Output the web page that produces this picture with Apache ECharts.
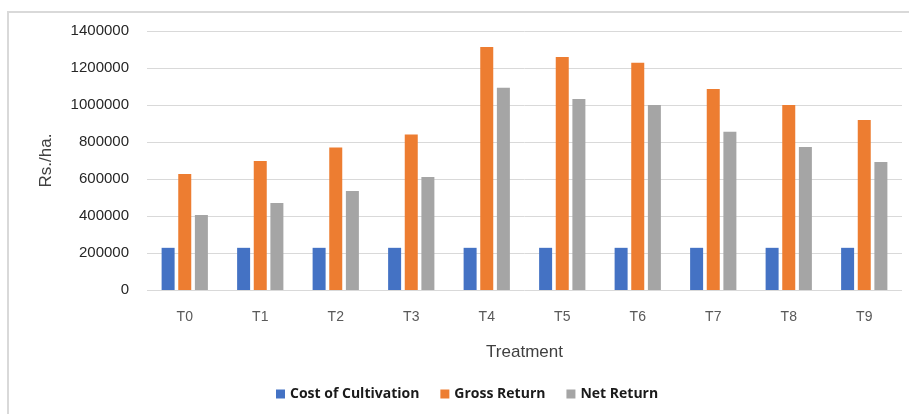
<!DOCTYPE html>
<html>
<head>
<meta charset="utf-8">
<script src="https://cdn.jsdelivr.net/npm/echarts@6/dist/echarts.min.js"></script>
<style>
  html, body { margin: 0; padding: 0; background: #fff; }
  #chart { width: 909px; height: 414px; }
</style>
</head>
<body>
<div id="chart"></div>
<script>
// Treatments on the x axis
const treatments = ['T0', 'T1', 'T2', 'T3', 'T4', 'T5', 'T6', 'T7', 'T8', 'T9'];

// Economics per treatment (Rs./ha.)
const costOfCultivation = [228000, 228000, 228000, 228000, 228000, 228000, 228000, 228000, 228000, 228000];
const grossReturn = [627000, 697000, 770000, 840000, 1314000, 1260000, 1228000, 1087000, 1000000, 919000];
const netReturn = [405000, 470000, 535000, 611000, 1093000, 1033000, 1000000, 855000, 773000, 692000];

// Y-axis ticks
const yTicks = { min: 0, max: 1400000, interval: 200000 };

const seriesNames = ['Cost of Cultivation', 'Gross Return', 'Net Return'];
const seriesColors = ['#4472c4', '#ed7d31', '#a5a5a5'];
const seriesValues = [costOfCultivation, grossReturn, netReturn];

const chart = echarts.init(document.getElementById('chart'), null, { renderer: 'canvas' });

const fontFamily = '"Liberation Sans", "DejaVu Sans", sans-serif';

chart.setOption({
  animation: false,
  backgroundColor: '#ffffff',
  graphic: [
    {
      type: 'polyline',
      silent: true,
      shape: { points: [[8, 420], [8, 12], [915, 12]] },
      style: { stroke: '#d9d9d9', lineWidth: 2, fill: null }
    }
  ],
  grid: { left: 147, right: 7, top: 31, bottom: 124, containLabel: false },
  legend: {
    data: seriesNames,
    bottom: 8,
    left: 271,
    itemWidth: 9,
    itemHeight: 9,
    itemGap: 21,
    icon: 'rect',
    textStyle: { fontFamily: '"Open Sans", sans-serif', fontSize: 14, fontWeight: 'bold', color: '#1a1a1a' }
  },
  xAxis: {
    type: 'category',
    data: treatments,
    name: 'Treatment',
    nameLocation: 'middle',
    nameGap: 54,
    nameTextStyle: { fontFamily, fontSize: 17, color: '#404040' },
    axisLine: { show: false },
    axisTick: { show: false },
    axisLabel: { fontFamily, fontSize: 14, color: '#595959', margin: 20 }
  },
  yAxis: {
    type: 'value',
    min: yTicks.min,
    max: yTicks.max,
    interval: yTicks.interval,
    name: 'Rs./ha.',
    nameLocation: 'middle',
    nameGap: 92,
    nameRotate: 90,
    nameTextStyle: { fontFamily, fontSize: 17, color: '#404040' },
    axisLine: { show: false },
    axisTick: { show: false },
    axisLabel: { fontFamily, fontSize: 15, color: '#262626', margin: 18, formatter: v => String(v) },
    splitLine: { lineStyle: { color: '#d9d9d9', width: 1 } }
  },
  series: seriesNames.map((name, i) => ({
    name,
    type: 'bar',
    data: seriesValues[i],
    barWidth: 13,
    barGap: '28%',
    itemStyle: { color: seriesColors[i] }
  }))
});
</script>
</body>
</html>
